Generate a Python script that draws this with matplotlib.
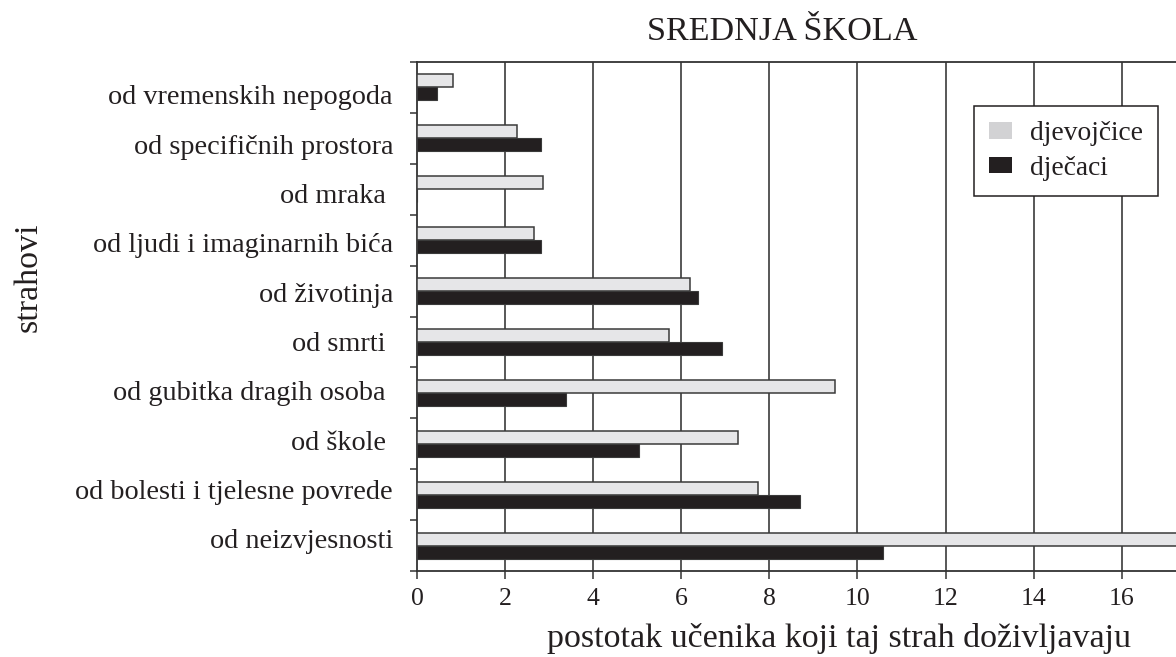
import matplotlib
matplotlib.use("Agg")
import matplotlib.pyplot as plt
from matplotlib.patches import Patch
from matplotlib.transforms import blended_transform_factory
import numpy as np

plt.rcParams['font.family'] = ['Liberation Serif', 'DejaVu Serif']

# Fears, listed from top to bottom
categories = [
    "od vremenskih nepogoda",
    "od specifičnih prostora",
    "od mraka ",
    "od ljudi i imaginarnih bića",
    "od životinja",
    "od smrti ",
    "od gubitka dragih osoba ",
    "od škole ",
    "od bolesti i tjelesne povrede",
    "od neizvjesnosti",
]

# Percentage of pupils reporting each fear
girls = [0.81, 2.27, 2.86, 2.66, 6.19, 5.72, 9.50, 7.28, 7.74, 18.0]
boys = [0.46, 2.81, 0.0, 2.81, 6.38, 6.93, 3.39, 5.03, 8.69, 10.58]

x_ticks = [0, 2, 4, 6, 8, 10, 12, 14, 16]
series_labels = ["djevojčice", "dječaci"]
title = "SREDNJA ŠKOLA"
x_label = "postotak učenika koji taj strah doživljavaju"
y_label = "strahovi"

W, H = 1176, 657
fig = plt.figure(figsize=(W / 100, H / 100), dpi=100)

# axes box in pixel terms
left_px, top_px, bottom_px = 417, 62, 571
ax = fig.add_axes([left_px / W, 1 - bottom_px / H,
                   1 - left_px / W, (bottom_px - top_px) / H])

n = len(categories)
centers = np.arange(n)[::-1] + 0.5  # first category at top
bh = 0.255

girl_fill = "#e6e6e8"
boy_fill = "#231f20"
ink = "#231f20"

ax.barh(centers + bh / 2, girls, height=bh, color=girl_fill,
        edgecolor="#3a3a3a", linewidth=1.1, zorder=3, label=series_labels[0])
ax.barh(centers - bh / 2, boys, height=bh, color=boy_fill,
        edgecolor="#3a3a3a", linewidth=0.8, zorder=3, label=series_labels[1])

ax.set_ylim(0, n)
ax.set_xlim(0, (W - left_px) / ((1121.7 - 417) / 16))

# vertical grid lines
for xv in x_ticks[1:]:
    ax.axvline(xv, color="#4a4a4a", linewidth=1.3, zorder=1)

ax.set_xticks(x_ticks)
ax.set_xticklabels([str(v) for v in x_ticks], fontsize=18.5, color=ink)
ax.tick_params(axis="x", direction="out", length=6, width=1.1,
               color="#333333", pad=6)

# ticks at slot boundaries; category labels drawn as separate text
ax.set_yticks(np.arange(n + 1))
ax.set_yticklabels([])
ax.tick_params(axis="y", direction="out", length=5, width=1.1, color="#333333")
label_tr = blended_transform_factory(fig.transFigure, ax.transAxes)
label_step = 49.3 / (bottom_px - top_px)
first_base = 1 - (104.5 - top_px) / (bottom_px - top_px)
for i, lab in enumerate(categories):
    ax.text(393 / W, first_base - i * label_step, lab, ha="right",
            va="baseline", fontsize=20.3, color=ink, clip_on=False,
            transform=label_tr)

ax.spines["right"].set_visible(False)
for side in ["top", "bottom", "left"]:
    ax.spines[side].set_color("#333333")
    ax.spines[side].set_linewidth(1.3)

fig.text(782 / W, 1 - 32 / H, title, ha="center", va="center",
         fontsize=24.6, color=ink)
fig.text(839 / W, 1 - 638 / H, x_label, ha="center", va="center",
         fontsize=24.5, color=ink)
fig.text(28 / W, 1 - 277 / H, y_label, ha="center", va="center",
         rotation=90, fontsize=24.5, color=ink)

handles = [Patch(facecolor="#d2d2d4", edgecolor="none"),
           Patch(facecolor=boy_fill, edgecolor="none")]
leg = fig.legend(handles, series_labels, loc="upper left",
                 bbox_to_anchor=(974 / W, 1 - 106 / H),
                 fontsize=19.8, frameon=True, fancybox=False,
                 edgecolor=ink, framealpha=1, borderpad=0.55,
                 handlelength=0.82, handleheight=0.55, handletextpad=0.65,
                 labelspacing=0.35, borderaxespad=0)
leg.get_frame().set_linewidth(1.1)
for t in leg.get_texts():
    t.set_color(ink)

fig.savefig("out.png", dpi=100)
